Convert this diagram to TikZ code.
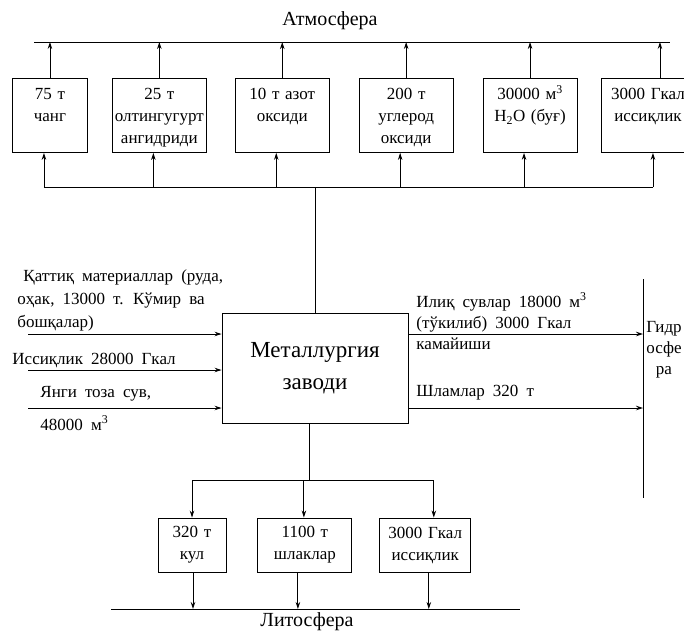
\documentclass[tikz,border=0pt]{standalone}
\usepackage{fontspec}
\setmainfont{Liberation Serif}[WordSpace=1.9]
\usetikzlibrary{arrows.meta,positioning,calc}

\begin{document}
\begin{tikzpicture}[
  x=1pt, y=-1pt,
  font=\fontsize{17}{22}\selectfont,
  >={Stealth[length=7pt,width=4.5pt]},
  line width=0.9pt,
  outbox/.style={rectangle, draw, inner xsep=0pt, inner ysep=7pt, align=center, text width=94pt, text height=14pt, text depth=46pt},
  waste/.style={rectangle, draw, inner xsep=0pt, align=center, minimum height=54pt},
  sphere/.style={font=\fontsize{20}{24}\selectfont},
  flow/.style={align=left, inner sep=0pt, anchor=west},
]
\useasboundingbox (0,0) rectangle (684,630);
\node[rectangle, draw, minimum width=186pt, minimum height=110pt, align=center, font=\fontsize{23}{32}\selectfont] (plant) at (315,368) {Металлургия\\заводи};
% emissions into the atmosphere
\node[outbox, text width=75pt, anchor=north west] (chang) at (12,78) {75 т\\чанг};
\node[outbox, right=24pt of chang] (sulf) {25 т\\олтингугурт\\ангидриди};
\node[outbox, right=28pt of sulf] (nitro) {10 т азот\\оксиди};
\node[outbox, right=29pt of nitro] (carb) {200 т\\углерод\\оксиди};
\node[outbox, right=29pt of carb] (steam) {30000 м\textsuperscript{3}\\H\textsubscript{2}O (буғ)};
\node[outbox, right=23pt of steam] (heat) {3000 Гкал\\иссиқлик};
\node[sphere] (atm) at (330,21) {Атмосфера};
\coordinate (atmL) at (34,42);
\coordinate (atmR) at (670,42);
\coordinate (bus) at (0,187);
\draw (atmL) -- (atmR);
\draw (plant.north) -- (plant.north |- bus);
\draw ([xshift=-6pt]chang.south |- bus) -- ([xshift=5pt]heat.south |- bus);
\draw[->] ([xshift=-6pt]chang.south |- bus) -- ([xshift=-6pt]chang.south);
\draw[->] ([xshift=-6pt]sulf.south |- bus) -- ([xshift=-6pt]sulf.south);
\draw[->] ([xshift=-6pt]nitro.south |- bus) -- ([xshift=-6pt]nitro.south);
\draw[->] ([xshift=-6pt]carb.south |- bus) -- ([xshift=-6pt]carb.south);
\draw[->] ([xshift=-6pt]steam.south |- bus) -- ([xshift=-6pt]steam.south);
\draw[->] ([xshift=5pt]heat.south |- bus) -- ([xshift=5pt]heat.south);
\draw[->] (chang.north) -- (chang.north |- atmL);
\draw[->] (sulf.north) -- (sulf.north |- atmL);
\draw[->] (nitro.north) -- (nitro.north |- atmL);
\draw[->] (carb.north) -- (carb.north |- atmL);
\draw[->] (steam.north) -- (steam.north |- atmL);
\draw[->] ([xshift=12pt]heat.north) -- ([xshift=12pt]heat.north |- atmL);
% inputs
\node[flow, font=\fontsize{17}{23}\selectfont] (solid) at (17,300) {\hspace*{6pt}Қаттиқ материаллар (руда,\\оҳак, 13000 т. Кўмир ва\\бошқалар)};
\node[flow] (heatin) at (12,360) {Иссиқлик 28000 Гкал};
\node[flow] (water) at (40,394) {Янги тоза сув,};
\node[flow] (waterq) at (40,423) {48000 м\textsuperscript{3}};
\coordinate (in1) at (28,334);
\coordinate (in2) at (28,370);
\coordinate (in3) at (28,408);
\draw[->] (in1) -- (in1 -| plant.west);
\draw[->] (in2) -- (in2 -| plant.west);
\draw[->] (in3) -- (in3 -| plant.west);
% hydrosphere
\coordinate (hydT) at (643,279);
\coordinate (hydB) at (643,498);
\draw (hydT) -- (hydB);
\node[align=center, font=\fontsize{17}{21}\selectfont] (hydro) at (664,350) {Гидр\\осфе\\ра};
\node[flow, font=\fontsize{17}{21}\selectfont] (warm) at (416,321) {Илиқ сувлар 18000 м\textsuperscript{3}\\(тўкилиб) 3000 Гкал\\камайиши};
\node[flow] (slam) at (416,393) {Шламлар 320 т};
\draw[->] (in1 -| plant.east) -- (in1 -| hydT);
\draw[->] (in3 -| plant.east) -- (in3 -| hydT);
% lithosphere
\node[waste, text width=68pt] (ash) at (192,545) {320 т\\кул};
\node[waste, text width=94pt, right=31pt of ash] (shlak) {1100 т\\шлаклар};
\node[waste, text width=91pt, right=27pt of shlak] (lheat) {3000 Гкал\\иссиқлик};
\coordinate (lbus) at (0,480);
\coordinate (litL) at (111,609);
\coordinate (litR) at (520,609);
\draw ([xshift=-6pt]plant.south) -- ([xshift=-6pt]plant.south |- lbus);
\draw (ash.north |- lbus) -- ([xshift=8.5pt]lheat.north |- lbus);
\draw[->] (ash.north |- lbus) -- (ash.north);
\draw[->] ([xshift=-1pt]shlak.north |- lbus) -- ([xshift=-1pt]shlak.north);
\draw[->] ([xshift=8.5pt]lheat.north |- lbus) -- ([xshift=8.5pt]lheat.north);
\draw (litL) -- (litR);
\draw[->] ([xshift=1pt]ash.south) -- ([xshift=1pt]ash.south |- litL);
\draw[->] ([xshift=-7pt]shlak.south) -- ([xshift=-7pt]shlak.south |- litL);
\draw[->] ([xshift=3.5pt]lheat.south) -- ([xshift=3.5pt]lheat.south |- litL);
\node[sphere] (lito) at (307,622) {Литосфера};
\end{tikzpicture}
\end{document}
